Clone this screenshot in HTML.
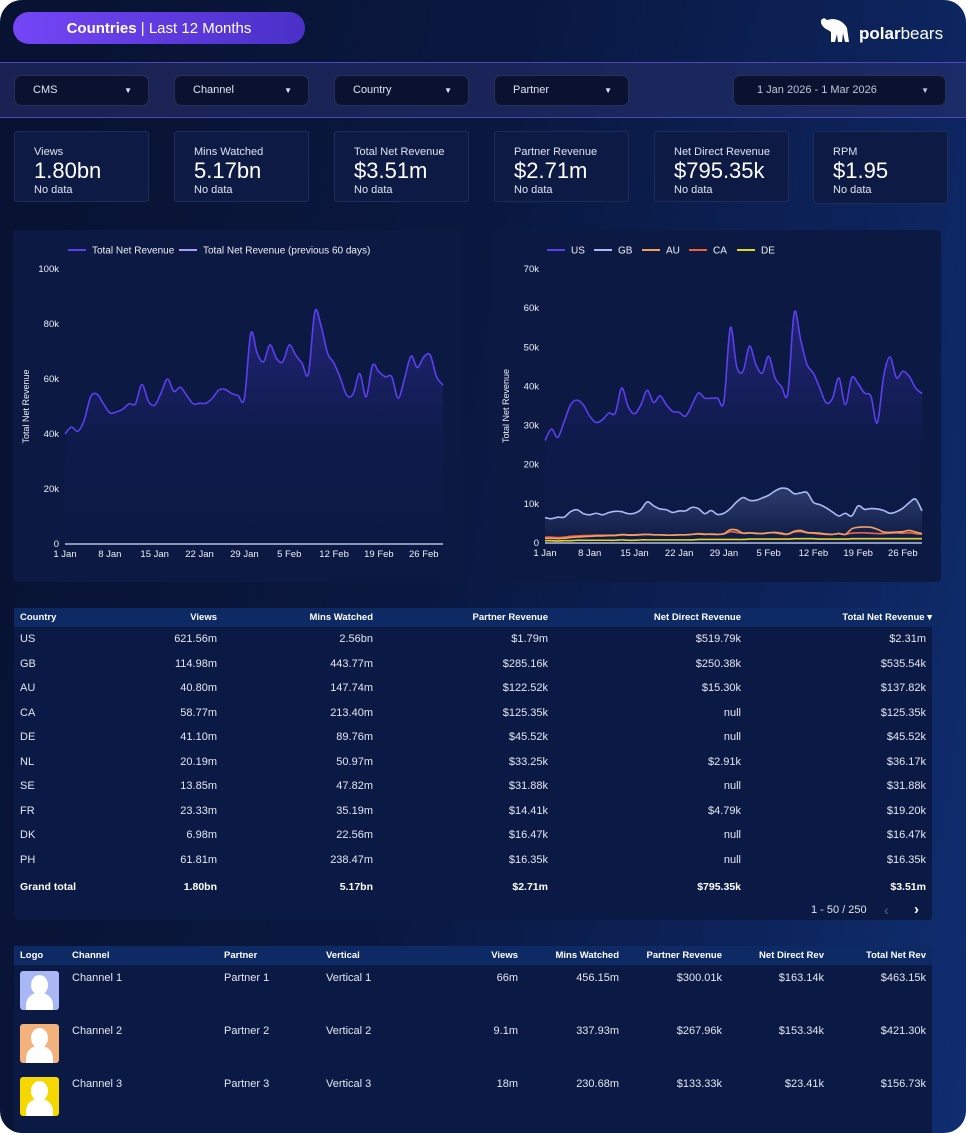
<!DOCTYPE html>
<html><head><meta charset="utf-8">
<style>
*{box-sizing:border-box;margin:0;padding:0}
html,body{width:966px;height:1133px;background:#fff;overflow:hidden}
body{font-family:"Liberation Sans",sans-serif;color:#fff}
#page{position:absolute;left:0;top:0;width:966px;height:1133px;border-radius:22px;overflow:hidden;
 background:linear-gradient(100deg,#081231 0%,#0a1840 45%,#0c2258 75%,#0f2e70 100%)}
.abs{position:absolute}
#title{left:13px;top:12px;width:292px;height:32px;border-radius:16px;background:linear-gradient(90deg,#7446f6,#4a30c8);font-size:15px;line-height:33px;text-align:center}
#filterbar{left:0;top:62px;width:966px;height:56px;background:rgba(40,48,110,0.55);border-top:1px solid #4c46b8;border-bottom:1px solid #4c46b8}
.dd{top:12px;height:31px;background:#0a1230;border:1px solid #26315a;border-radius:7px;font-size:11px;line-height:29px;padding-left:18px;color:#dfe3f0}
.dd .car{position:absolute;right:16px;top:0;font-size:8px}
.kpi{top:131px;width:135px;height:71px;background:#0d1b44;border:1px solid #1f2c5a;border-radius:3px;padding:14px 0 0 19px}
.kpi .l{font-size:11px;color:#dfe3f0;line-height:12px}
.kpi .v{font-size:22px;line-height:26px}
.kpi .n{font-size:11px;color:#dfe3f0;line-height:12px}
.card{background:#0b1943;border-radius:4px}
svg text{font-family:"Liberation Sans",sans-serif}
.tbl{left:14px;width:918px;background:#0b1a44;border-radius:4px;font-size:11px}
.th{background:#0d2a65;height:19px;font-weight:bold;font-size:9.5px;line-height:19px}
.c{position:absolute;white-space:nowrap}
.r{text-align:right}
</style></head><body>
<div id="page">
 <div id="title" class="abs"><b>Countries</b> | Last 12 Months</div>
 <div class="abs" style="left:818px;top:16px;width:135px;height:30px">
  <svg width="36" height="28" viewBox="0 0 36 28" style="position:absolute;left:0;top:0"><path d="M3 4 L6 2 L9 4 L14 3 C20 3 26 6 29 12 L31 26 L27 26 L25 17 L24 26 L20 26 L19 18 L17 26 L13 26 L13 16 L10 14 C7 13 4 10 3 7 Z" fill="#fff"/></svg>
  <span style="position:absolute;left:41px;top:8px;font-size:17px;line-height:20px"><b>polar</b>bears</span>
 </div>
 <div id="filterbar" class="abs">
  <div class="abs dd" style="left:14px;width:135px">CMS<span class="car">▼</span></div>
  <div class="abs dd" style="left:174px;width:135px">Channel<span class="car">▼</span></div>
  <div class="abs dd" style="left:334px;width:135px">Country<span class="car">▼</span></div>
  <div class="abs dd" style="left:494px;width:135px">Partner<span class="car">▼</span></div>
  <div class="abs dd" style="left:733px;width:213px;padding-left:23px;color:#c0c6d8">1 Jan 2026 - 1 Mar 2026<span class="car">▼</span></div>
 </div>
 <div class="abs kpi" style="left:14px"><div class="l">Views</div><div class="v">1.80bn</div><div class="n">No data</div></div>
 <div class="abs kpi" style="left:174px"><div class="l">Mins Watched</div><div class="v">5.17bn</div><div class="n">No data</div></div>
 <div class="abs kpi" style="left:334px"><div class="l">Total Net Revenue</div><div class="v">$3.51m</div><div class="n">No data</div></div>
 <div class="abs kpi" style="left:494px"><div class="l">Partner Revenue</div><div class="v">$2.71m</div><div class="n">No data</div></div>
 <div class="abs kpi" style="left:654px"><div class="l">Net Direct Revenue</div><div class="v">$795.35k</div><div class="n">No data</div></div>
 <div class="abs kpi" style="left:813px;height:73px"><div class="l">RPM</div><div class="v">$1.95</div><div class="n">No data</div></div>

 <div class="abs card" style="left:13px;top:230px;width:450px;height:352px"></div>
 <div class="abs card" style="left:493px;top:230px;width:448px;height:352px"></div>
 <svg id="charts" class="abs" style="left:0;top:0" width="966" height="600">
  <defs>
   <linearGradient id="gL" x1="0" y1="0" x2="0" y2="1"><stop offset="0" stop-color="#5b3ff0" stop-opacity="0.3"/><stop offset="0.55" stop-color="#5b3ff0" stop-opacity="0.04"/><stop offset="1" stop-color="#5b3ff0" stop-opacity="0"/></linearGradient>
   <linearGradient id="gGB" x1="0" y1="0" x2="0" y2="1"><stop offset="0" stop-color="#a9bdf5" stop-opacity="0.22"/><stop offset="1" stop-color="#a9bdf5" stop-opacity="0"/></linearGradient>
  </defs>
  <g id="left"></g><g id="right"></g>
 </svg>

 <div class="abs tbl" style="top:608px;height:312px" id="t1"></div>
 <div class="abs tbl" style="top:946px;height:187px;border-radius:4px 4px 0 0" id="t2"></div>
</div>
<script>
const days=["1 Jan","8 Jan","15 Jan","22 Jan","29 Jan","5 Feb","12 Feb","19 Feb","26 Feb"];
const tickDays=[0,7,14,21,28,35,42,49,56];
const totalRev=[40,42.5,41,45,53.5,54.5,51,47.7,48,49,51,51,58,52,50.5,55,60,55.5,57,54,51,51.2,51.2,53,56,56.2,54.7,54,53,76.6,69.3,66.3,72.4,67.5,66.3,72.4,68.7,65.7,62,84.5,79,69.3,65.7,60.2,54,54.7,62,53.5,65,62.6,60.8,60.8,53,60.2,68.3,64.2,68,68.7,60.8,57.8];
const usRev=[26.2,29.1,27,31,35.3,36.5,35.3,32.4,30.8,31.5,33.2,33.2,39.6,34.9,33,35.3,39,35.9,37.6,35.3,33.6,33.4,32.4,35.3,38.3,37,37,37,36.2,55,45.1,43.9,50.3,45.6,43.4,47.7,42.2,40,38.3,58.8,52,45.6,43.4,39.6,35.8,37,42.2,35.3,42.2,40.7,38.3,37.5,30.7,42.6,47.5,42.2,43.9,42.6,39.6,38.2];
const gbRev=[6.5,6.2,6.6,6.6,8,8.5,7.5,7.2,7.6,7.2,7.8,8.1,8,7.5,7.6,8.5,10.5,9.5,8.7,8.5,7.8,8.2,8.2,9.1,8.8,7.5,8.3,7.3,7.6,8.8,10.5,11.6,10.9,10.9,11.5,12.2,13.3,14,13.8,12.6,12.8,12.9,10.4,9.8,9,7.9,6.9,7.6,6.9,9.5,8.6,8.8,8.7,8.3,7.6,8,8.9,10.3,11.2,8.2];
const auRev=[1.2,1.2,1.1,1.2,1.4,1.5,1.6,1.7,1.8,1.8,1.9,1.9,2.1,2,2,2.1,2.2,2.1,2.1,2,2,2.1,2.1,2.2,2.3,2.2,2.3,2.2,2.4,3.4,3.3,2.5,2.6,2.5,2.4,2.6,2.7,2.5,2.3,3,3.2,2.7,2.6,2.5,2.3,2.2,2.4,2.2,3.6,4,4.1,4,3.5,2.8,2.7,2.8,2.9,3.2,2.8,2.4];
const caRev=[1.5,1.5,1.4,1.5,1.7,1.8,1.9,1.9,2,2,2,2,2.2,2.1,2.1,2.2,2.2,2.1,2.1,2,2,2.1,2.1,2.2,2.4,2.3,2.2,2.2,2.3,2.9,2.7,2.5,2.6,2.4,2.4,2.6,2.6,2.3,2.2,2.8,2.9,2.6,2.5,2.3,2.2,2.2,2.4,2.2,2.5,2.6,2.6,2.5,2.4,2.4,2.5,2.6,2.5,2.6,2.4,2.2];
const deRev=[0.6,0.6,0.5,0.6,0.6,0.7,0.7,0.7,0.7,0.7,0.7,0.7,0.8,0.7,0.7,0.8,0.8,0.8,0.8,0.8,0.8,0.8,0.8,0.8,0.9,0.9,0.9,0.9,0.9,0.9,0.9,0.9,1,1,1,1,1,1,1,1.1,1.1,1.1,1.1,1,1,1,1,1,1.1,1.1,1.1,1.1,1.1,1.1,1.1,1.1,1.1,1.1,1.1,1.1];
const leftTicks=[0,20,40,60,80,100];
const rightTicks=[0,10,20,30,40,50,60,70];

const NS="http://www.w3.org/2000/svg";
function mk(tag,attrs,parent){const e=document.createElementNS(NS,tag);for(const k in attrs)e.setAttribute(k,attrs[k]);parent.appendChild(e);return e;}
function smooth(pts){let d="M"+pts[0][0]+","+pts[0][1];for(let i=0;i<pts.length-1;i++){const p0=pts[i-1]||pts[i],p1=pts[i],p2=pts[i+1],p3=pts[i+2]||p2;
 d+=" C"+(p1[0]+(p2[0]-p0[0])/6)+","+(p1[1]+(p2[1]-p0[1])/6)+" "+(p2[0]-(p3[0]-p1[0])/6)+","+(p2[1]-(p3[1]-p1[1])/6)+" "+p2[0]+","+p2[1];}return d;}
function chart(g,x0,x1,y0,y1,maxV,ticks,series,legend){
 const xs=i=>x0+(x1-x0)*i/59, ys=v=>y0-(y0-y1)*v/maxV;
 ticks.forEach(t=>{const e=mk("text",{x:x0-6,y:ys(t)+3,"text-anchor":"end","font-size":"9.5",fill:"#eef0f6"},g);e.textContent=t===0?"0":t+"k";
  
  });
 tickDays.forEach((d,i)=>{const e=mk("text",{x:xs(d),y:y0+13,"text-anchor":"middle","font-size":"9.5",fill:"#eef0f6"},g);e.textContent=days[i];
  
  });
 const t=mk("text",{x:0,y:0,transform:"translate("+(x0-36)+","+((y0+y1)/2)+") rotate(-90)","text-anchor":"middle","font-size":"9",fill:"#eef0f6"},g);t.textContent="Total Net Revenue";
 
 
 series.slice().reverse().forEach(s=>{const pts=s.data.map((v,i)=>[xs(i),ys(v)]);const d=smooth(pts);
  if(s.fill){const a=mk("path",{d:d+" L"+xs(59)+","+y0+" L"+x0+","+y0+" Z",fill:s.fill},g);
   
   }
  const l=mk("path",{d:d,fill:"none",stroke:s.color,"stroke-width":1.6},g);
  
  });
 const base=mk("line",{x1:x0,x2:x1,y1:y0,y2:y0,stroke:"#8a93b8","stroke-width":2},g);
 
 
 legend.forEach(L=>{mk("line",{x1:L.x,x2:L.x+18,y1:250,y2:250,stroke:L.color,"stroke-width":2},g);
  const e=mk("text",{x:L.x+24,y:253.5,"font-size":"10",fill:"#f0f1f6"},g);e.textContent=L.label;
  
  });
}
chart(document.getElementById("left"),65,443,544,269,100,leftTicks,
 [{name:"total-net-revenue",data:totalRev,color:"#5b3ff0",fill:"url(#gL)"}],
 [{x:68,color:"#5b3ff0",label:"Total Net Revenue"},{x:179,color:"#a99cff",label:"Total Net Revenue (previous 60 days)"}]);
chart(document.getElementById("right"),545,922,543,269,70,rightTicks,
 [{name:"us",data:usRev,color:"#5b3ff0",fill:"url(#gL)"},{name:"gb",data:gbRev,color:"#a9bdf5",fill:"url(#gGB)"},{name:"au",data:auRev,color:"#f5a05a"},{name:"ca",data:caRev,color:"#f0603a"},{name:"de",data:deRev,color:"#e5d520"}],
 [{x:547,color:"#5b3ff0",label:"US"},{x:594,color:"#a9bdf5",label:"GB"},{x:642,color:"#f5a05a",label:"AU"},{x:689,color:"#f0603a",label:"CA"},{x:737,color:"#e5d520",label:"DE"}]);

// Table 1
const t1=document.getElementById("t1");
const rows1=[["US","621.56m","2.56bn","$1.79m","$519.79k","$2.31m"],["GB","114.98m","443.77m","$285.16k","$250.38k","$535.54k"],["AU","40.80m","147.74m","$122.52k","$15.30k","$137.82k"],["CA","58.77m","213.40m","$125.35k","null","$125.35k"],["DE","41.10m","89.76m","$45.52k","null","$45.52k"],["NL","20.19m","50.97m","$33.25k","$2.91k","$36.17k"],["SE","13.85m","47.82m","$31.88k","null","$31.88k"],["FR","23.33m","35.19m","$14.41k","$4.79k","$19.20k"],["DK","6.98m","22.56m","$16.47k","null","$16.47k"],["PH","61.81m","238.47m","$16.35k","null","$16.35k"]];
const rights1=[203,359,534,727,912];
let h='<div class="th abs" style="left:0;top:0;width:918px"><span class="c" style="left:6px">Country</span>';
["Views","Mins Watched","Partner Revenue","Net Direct Revenue","Total Net Revenue ▾"].forEach((c,i)=>{h+='<span class="c r" style="right:'+(918-rights1[i]+(i==4?-6:0))+'px">'+c+'</span>';});
h+='</div>';
rows1.forEach((r,j)=>{const y=25+j*24.5;h+='<div class="abs" style="left:0;top:'+y+'px;width:918px;height:16px;color:#e4e7f1"><span class="c" style="left:6px">'+r[0]+'</span>';
 for(let i=1;i<6;i++)h+='<span class="c" style="right:'+(918-rights1[i-1])+'px">'+r[i]+'</span>';h+='</div>';});
const gt=["Grand total","1.80bn","5.17bn","$2.71m","$795.35k","$3.51m"];
h+='<div class="abs" style="left:0;top:273px;width:918px;font-weight:bold;font-size:10.5px"><span class="c" style="left:6px">'+gt[0]+'</span>';
for(let i=1;i<6;i++)h+='<span class="c" style="right:'+(918-rights1[i-1])+'px">'+gt[i]+'</span>';h+='</div>';
h+='<span class="c" style="left:797px;top:296px;color:#dfe3f0">1 - 50 / 250</span>';
h+='<span class="c" style="left:870px;top:294px;color:#5a6488;font-size:14px">‹</span>';
h+='<span class="c" style="left:900px;top:293px;font-size:15px;font-weight:bold">›</span>';
t1.innerHTML=h;

// Table 2
const t2=document.getElementById("t2");
const rows2=[["Channel 1","Partner 1","Vertical 1","66m","456.15m","$300.01k","$163.14k","$463.15k","#a9b8f5"],["Channel 2","Partner 2","Vertical 2","9.1m","337.93m","$267.96k","$153.34k","$421.30k","#f3b27c"],["Channel 3","Partner 3","Vertical 3","18m","230.68m","$133.33k","$23.41k","$156.73k","#f5d800"]];
const rights2=[504,605,708,810,912];
let g='<div class="th abs" style="left:0;top:0;width:918px"><span class="c" style="left:6px">Logo</span><span class="c" style="left:58px">Channel</span><span class="c" style="left:210px">Partner</span><span class="c" style="left:312px">Vertical</span>';
["Views","Mins Watched","Partner Revenue","Net Direct Rev","Total Net Rev"].forEach((c,i)=>{g+='<span class="c" style="right:'+(918-rights2[i])+'px">'+c+'</span>';});
g+='</div>';
rows2.forEach((r,j)=>{const y=25+j*53;g+='<div class="abs" style="left:0;top:'+y+'px;width:918px;height:50px;color:#e4e7f1">';
 g+='<div class="abs" style="left:6px;top:0;width:39px;height:39px;border-radius:3px;overflow:hidden;background:'+r[8]+'"><div class="abs" style="left:11px;top:4px;width:17px;height:20px;border-radius:50%;background:#fff"></div><div class="abs" style="left:6px;top:22px;width:27px;height:20px;border-radius:12px 12px 0 0;background:#fff"></div></div>';
 g+='<span class="c" style="left:58px;top:1px">'+r[0]+'</span><span class="c" style="left:210px;top:1px">'+r[1]+'</span><span class="c" style="left:312px;top:1px">'+r[2]+'</span>';
 for(let i=3;i<8;i++)g+='<span class="c" style="top:1px;right:'+(918-rights2[i-3])+'px">'+r[i]+'</span>';g+='</div>';});
t2.innerHTML=g;
</script>
</body></html>
